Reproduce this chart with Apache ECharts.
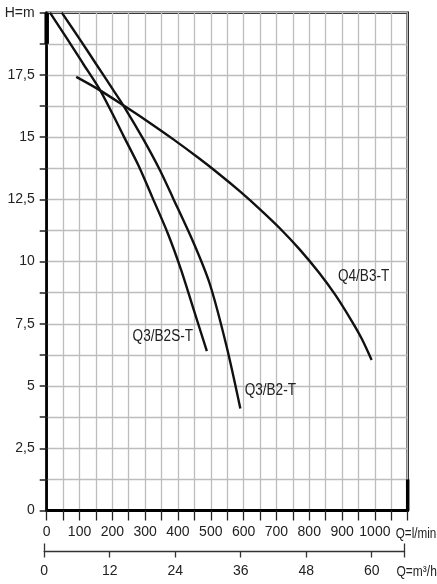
<!DOCTYPE html>
<html><head><meta charset="utf-8">
<script src="https://cdn.jsdelivr.net/npm/echarts@6/dist/echarts.min.js"></script>
<style>html,body{margin:0;padding:0;background:#fff}#c{width:437px;height:584px}</style>
</head><body><div id="c"></div>
<script>
// ---- data ----
const seriesNames = ['Q3/B2S-T', 'Q3/B2-T', 'Q4/B3-T'];
const q3b2sQ = [10, 60, 110, 160, 200, 234, 280, 323, 370, 410, 446, 488];
const q3b2sH = [20.0, 19.0, 17.97, 16.95, 15.95, 15.05, 13.85, 12.55, 11.1, 9.65, 8.15, 6.4];
const q3b2Q = [46, 100, 150, 200, 237, 293, 344, 385, 446, 497, 548, 590];
const q3b2H = [20.0, 18.95, 17.95, 16.95, 16.2, 14.95, 13.7, 12.55, 10.8, 9.1, 6.6, 4.1];
const q4b3Q = [90, 160, 237, 300, 385, 466, 527, 589, 650, 711, 770, 830, 880, 930, 960, 990];
const q4b3H = [17.42, 16.9, 16.25, 15.7, 14.92, 14.13, 13.5, 12.82, 12.1, 11.33, 10.5, 9.55, 8.65, 7.6, 6.9, 6.05];

// tick labels
const hLabels = ['0', '2,5', '5', '7,5', '10', '12,5', '15', '17,5', 'H=m'];
const qLminLabels = ['0', '100', '200', '300', '400', '500', '600', '700', '800', '900', '1000'];
const qM3hLabels = ['0', '12', '24', '36', '48', '60'];
const qLminUnit = 'Q=l/min';
const qM3hUnit = 'Q=m³/h';

const FONT = "'Liberation Sans',Arial,sans-serif";
const pair = (xs, ys) => xs.map((x, i) => [x, ys[i]]);

const chart = echarts.init(document.getElementById('c'), null, {renderer: 'canvas'});
const lineStyle = {color: '#111', width: 2.4};
const labelOffsets = [[-44, -15], [30, -18], [-8, -83]];
const allData = [pair(q3b2sQ, q3b2sH), pair(q3b2Q, q3b2H), pair(q4b3Q, q4b3H)];

chart.setOption({
  animation: false,
  backgroundColor: '#fff',
  grid: [
    {left: 46.7, right: 29.3, top: 12.7, bottom: 73.5, show: true, borderColor: '#111', borderWidth: 2.5, outerBoundsMode: 'none'},
    {left: 44.2, right: 32.5, top: 12.7, bottom: 73.5, outerBoundsMode: 'none'}
  ],
  xAxis: [
    {gridIndex: 0, type: 'value', min: 0, max: 1100, interval: 50, position: 'bottom',
     axisLine: {show: true, onZero: false, lineStyle: {color: '#000', width: 3}},
     axisTick: {show: true, length: 10, lineStyle: {color: '#222', width: 1.3}},
     axisLabel: {margin: 15, fontSize: 14, color: '#222', fontFamily: FONT, showMaxLabel: true, showMinLabel: true, hideOverlap: false,
       formatter: v => (v % 100 === 0 && v <= 1000) ? qLminLabels[v / 100] : ''},
     splitLine: {show: true, lineStyle: {color: '#bdbdbd', width: 1.3}}},
    {gridIndex: 1, type: 'value', min: 0, max: 66, interval: 12, position: 'bottom', offset: 41,
     axisLine: {show: true, onZero: false, lineStyle: {color: '#333', width: 1.4}},
     axisTick: {show: true, length: 6, lineStyle: {color: '#333', width: 1.3}},
     axisLabel: {margin: 13, fontSize: 14, color: '#222', fontFamily: FONT,
       formatter: v => (v % 12 === 0 && v <= 60) ? qM3hLabels[v / 12] : ''},
     splitLine: {show: false}},
    {gridIndex: 1, type: 'value', min: 0, max: 66, interval: 66, position: 'bottom', offset: 41,
     axisLine: {show: false, onZero: false},
     axisTick: {show: true, inside: true, length: 8, lineStyle: {color: '#333', width: 1.3}},
     axisLabel: {show: false}, splitLine: {show: false}}
  ],
  yAxis: [
    {gridIndex: 0, type: 'value', min: 0, max: 20, interval: 1.25,
     axisLine: {show: true, onZero: false, lineStyle: {color: '#000', width: 2.5}},
     axisTick: {show: true, length: 7, lineStyle: {color: '#222', width: 1.5}},
     axisLabel: {margin: 12, fontSize: 14, color: '#222', fontFamily: FONT, showMaxLabel: true, showMinLabel: true,
       formatter: v => (v % 2.5 === 0) ? hLabels[Math.round(v / 2.5)] : ''},
     splitLine: {show: true, lineStyle: {color: '#bdbdbd', width: 1.3}}},
    {gridIndex: 1, type: 'value', min: 0, max: 20, show: false}
  ],
  series: seriesNames.map((n, i) => ({
    name: n, type: 'line', xAxisIndex: 0, yAxisIndex: 0, data: allData[i],
    smooth: 0.3, symbol: 'none', lineStyle: lineStyle, clip: true, z: 5
  }))
});

const toPx = (v) => chart.convertToPixel({xAxisIndex: 0, yAxisIndex: 0}, v);
// curve name texts placed relative to each curve's last point
const gfx = [];
seriesNames.forEach((n, i) => {
  const p = toPx(allData[i][allData[i].length - 1]);
  gfx.push({type: 'text', x: p[0] + labelOffsets[i][0], y: p[1] + labelOffsets[i][1], z: 10, scaleX: 0.85,
    style: {text: n, font: '16px ' + FONT, fill: '#222', textAlign: 'center', textVerticalAlign: 'middle'}});
});
// heavier frame segments (top of left axis, bottom of right border)
const a1 = toPx([0, 20]), a2 = toPx([0, 18.75]);
const b1 = toPx([1100, 1.25]), b2 = toPx([1100, 0]);
gfx.push({type: 'line', z: 8, shape: {x1: a1[0], y1: a1[1], x2: a2[0], y2: a2[1]}, style: {stroke: '#000', lineWidth: 4.5}});
gfx.push({type: 'line', z: 8, shape: {x1: b1[0], y1: b1[1], x2: b2[0], y2: b2[1]}, style: {stroke: '#000', lineWidth: 3.5}});
// unit captions at the right end of both Q axes
const pEnd1 = toPx([1100, 0]);
const pEnd2 = chart.convertToPixel({xAxisIndex: 1, yAxisIndex: 1}, [66, 0]);
gfx.push({type: 'text', x: pEnd1[0] - 12, y: pEnd1[1] + 23, z: 10, scaleX: 0.78,
  style: {text: qLminUnit, font: '15px ' + FONT, fill: '#222', textAlign: 'left', textVerticalAlign: 'middle'}});
gfx.push({type: 'text', x: pEnd2[0] - 8, y: pEnd2[1] + 61, z: 10, scaleX: 0.8,
  style: {text: qM3hUnit, font: '15px ' + FONT, fill: '#222', textAlign: 'left', textVerticalAlign: 'middle'}});
chart.setOption({graphic: gfx});
</script></body></html>
